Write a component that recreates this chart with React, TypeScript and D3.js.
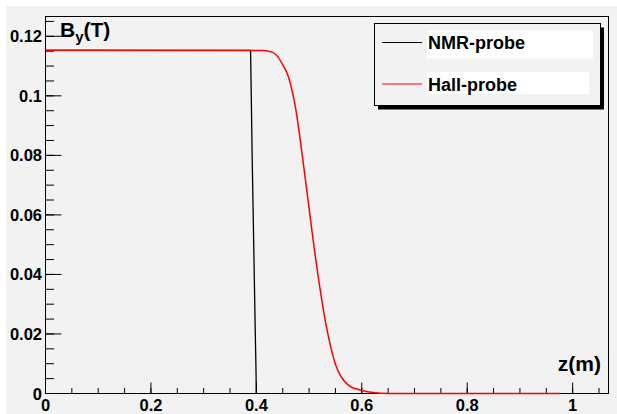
import React from "react";
import * as d3 from "d3";

const W = 617;
const H = 414;

const xTicks = [0, 0.2, 0.4, 0.6, 0.8, 1];
const xTickLabels = ["0", "0.2", "0.4", "0.6", "0.8", "1"];
const yTicks = [0, 0.02, 0.04, 0.06, 0.08, 0.1, 0.12];
const yTickLabels = ["0", "0.02", "0.04", "0.06", "0.08", "0.1", "0.12"];

const nmrZ = [0, 0.389, 0.39, 0.392, 0.395, 0.398, 0.399, 0.4];
const nmrB = [0.1153, 0.1153, 0.104, 0.08, 0.05, 0.02, 0.011, 0.0];

const hallZ = [0, 0.412, 0.431, 0.441, 0.45, 0.46, 0.468, 0.475, 0.482, 0.489, 0.496, 0.503, 0.51, 0.517, 0.524, 0.532, 0.542, 0.55, 0.558, 0.577, 0.599, 0.621, 0.65, 0.975];
const hallB = [0.1153, 0.1152, 0.1146, 0.1131, 0.1104, 0.1068, 0.1016, 0.0953, 0.0868, 0.0774, 0.0678, 0.058, 0.0485, 0.0396, 0.0315, 0.0232, 0.015, 0.0098, 0.0065, 0.0025, 0.0011, 0.0003, 0.0, 0.0];

const legendLabels = ["NMR-probe", "Hall-probe"];
const legendColors = ["#000000", "#ff0000"];

export default function App() {
  const left = 45.5, right = 608.5, top = 16.5, bottom = 393.5;
  const x = d3.scaleLinear().domain([0, 1.068]).range([left, right]);
  const y = d3.scaleLinear().domain([0, 0.12665]).range([bottom, top]);
  const line = d3
    .line<[number, number]>()
    .x((d) => x(d[0]))
    .y((d) => y(d[1]));
  const smooth = d3
    .line<[number, number]>()
    .x((d) => x(d[0]))
    .y((d) => y(d[1]))
    .curve(d3.curveMonotoneX);
  const nmr = nmrZ.map((z, i) => [z, nmrB[i]] as [number, number]);
  const hall = hallZ.map((z, i) => [z, hallB[i]] as [number, number]);

  const xMinor = d3.range(0, 1.0681, 0.05).filter((v) => v <= 1.068);
  const yMinor = d3.range(0, 0.1266, 0.005);
  const font = "'Liberation Sans', Arial, sans-serif";

  return (
    <svg
      width={W}
      height={H}
      style={{ position: "absolute", left: 0, top: 0 }}
      fontFamily={font}
    >
      <rect x={0} y={0} width={W} height={H} fill="#ffffff" />
      <rect x={6} y={6} width={W - 6} height={H - 6} fill="#f2f2f2" />
      <rect x={left} y={top} width={right - left} height={bottom - top} fill="#f2f2f2" stroke="#000" strokeWidth={1} />

      {/* x ticks */}
      {xMinor.map((v, i) => (
        <line key={"xm" + i} x1={x(v)} x2={x(v)} y1={bottom} y2={bottom - 5.5} stroke="#000" />
      ))}
      {xTicks.map((v, i) => (
        <line key={"xM" + i} x1={x(v)} x2={x(v)} y1={bottom} y2={bottom - 11} stroke="#000" />
      ))}
      {xTicks.map((v, i) => (
        <text key={"xl" + i} x={x(v)} y={411} textAnchor="middle" fontSize={16.5} fontWeight="bold">
          {xTickLabels[i]}
        </text>
      ))}

      {/* y ticks */}
      {yMinor.map((v, i) => (
        <line key={"ym" + i} x1={left} x2={left + 8.5} y1={y(v)} y2={y(v)} stroke="#000" />
      ))}
      {yTicks.map((v, i) => (
        <line key={"yM" + i} x1={left} x2={left + 16} y1={y(v)} y2={y(v)} stroke="#000" />
      ))}
      {yTicks.map((v, i) => (
        <text key={"yl" + i} x={42} y={y(v) + 6} textAnchor="end" fontSize={16.5} fontWeight="bold">
          {yTickLabels[i]}
        </text>
      ))}

      {/* curves */}
      <path d={line(nmr) || ""} fill="none" stroke="#000" strokeWidth={1.3} />
      <path d={smooth(hall) || ""} fill="none" stroke="#ff0000" strokeWidth={1.5} />

      {/* axis titles */}
      <text x={60} y={37} fontSize={21} fontWeight="bold">
        B<tspan fontSize={15} dy={5}>y</tspan>
        <tspan dy={-5}>(T)</tspan>
      </text>
      <text x={601} y={371} textAnchor="end" fontSize={21} fontWeight="bold">
        z(m)
      </text>

      {/* legend */}
      <rect x={378} y={27.5} width={226} height={82} fill="#000" />
      <rect x={374.5} y={23.5} width={226} height={82} fill="#f2f2f2" stroke="#000" strokeWidth={1} />
      {legendLabels.map((lab, i) => {
        const cy = i === 0 ? 42.5 : 84;
        return (
          <g key={lab}>
            <rect x={427} y={cy - 12} width={i === 0 ? 166 : 162} height={i === 0 ? 28 : 22} fill="#ffffff" />
            <line x1={382} x2={422} y1={cy} y2={cy} stroke={legendColors[i]} strokeWidth={1} />
            <text x={428} y={cy + 6.5} fontSize={18} fontWeight="bold">
              {lab}
            </text>
          </g>
        );
      })}
    </svg>
  );
}
